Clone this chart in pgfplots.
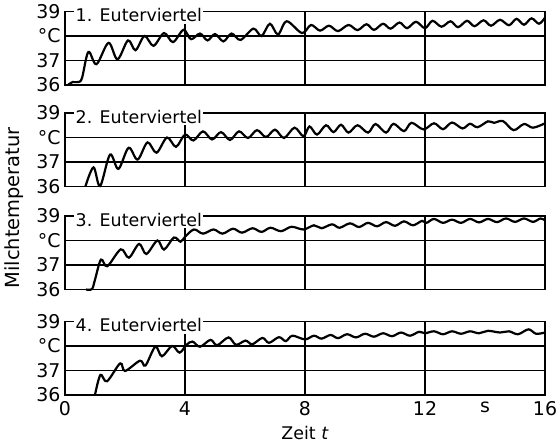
\documentclass[border=0pt]{standalone}
\usepackage{pgfplots}
\pgfplotsset{compat=1.18}
\usepackage{fontspec}
\setmainfont{DejaVu Sans}
\newcommand{\lblfont}{\fontsize{17.5}{20}\selectfont}
\newcommand{\tckfont}{\fontsize{19}{22}\selectfont}
\pgfplotsset{
  panel/.style={
    width=480bp, height=73.5bp, scale only axis,
    xmin=0, xmax=16, ymin=36, ymax=39,
    xtick={0,4,8,12,16}, xticklabels={},
    ytick={36,37,38,39}, yticklabels={36,37,°C,39},
    xmajorgrids, ymajorgrids,
    major tick length=0pt,
    grid style={black, line width=1.1bp},
    axis line style={black, line width=1.2bp},
    tick label style={font=\tckfont},
    /pgf/number format/assume math mode=true,
    yticklabel style={xshift=-1bp},
    anchor=south west, clip=false,
  },
  curve/.style={black, line width=2.2bp, smooth, tension=0.55, mark=none},
}
\tikzset{ttl/.style={anchor=north west, fill=white, inner sep=1.5bp, yshift=4.5bp, font=\lblfont}}
\begin{document}
\begin{tikzpicture}
\path[use as bounding box] (0bp,0bp) rectangle (557bp,446bp);

% Panel 1
\begin{axis}[panel, at={(65bp,361bp)}]
\addplot[curve] coordinates {
(0.1,36.0)(0.25,36.12)(0.45,36.12)(0.57,36.3)(0.78,37.35)(1.05,36.85)(1.45,37.72)(1.75,37.05)
(2.1,37.82)(2.35,37.42)(2.65,38.0)(2.95,37.6)(3.3,38.12)(3.6,37.75)(3.95,38.25)(4.2,37.87)
(4.5,38.1)(4.75,37.82)(5.0,38.08)(5.28,37.78)(5.55,38.1)(5.85,37.84)(6.28,38.3)(6.55,38.0)
(6.83,38.5)(7.1,38.06)(7.39,38.6)(7.9,38.12)(8.2,38.45)(8.5,38.22)(8.8,38.42)(9.1,38.2)
(9.45,38.45)(9.75,38.24)(10.05,38.48)(10.3,38.25)(10.6,38.5)(10.85,38.3)(11.15,38.55)(11.4,38.32)
(11.7,38.58)(12.0,38.32)(12.25,38.62)(12.55,38.38)(12.85,38.6)(13.1,38.36)(13.4,38.62)(13.65,38.4)
(13.95,38.64)(14.2,38.42)(14.5,38.66)(14.8,38.44)(15.05,38.7)(15.3,38.46)(15.55,38.72)(15.8,38.5)(16.0,38.75)
};
\node[ttl] at (axis cs:0.3,39) {1. Euterviertel};
\end{axis}

% Panel 2
\begin{axis}[panel, at={(65bp,259.5bp)}]
\addplot[curve] coordinates {
(0.68,36.0)(0.95,36.78)(1.17,36.02)(1.5,37.3)(1.78,36.72)(2.12,37.58)(2.42,37.1)(2.75,37.8)
(3.05,37.38)(3.4,38.0)(3.7,37.62)(4.0,38.12)(4.28,37.88)(4.6,38.25)(4.9,37.92)(5.2,38.22)
(5.5,37.9)(5.8,38.25)(6.1,37.98)(6.4,38.3)(6.7,38.02)(7.0,38.32)(7.3,37.98)(7.65,38.4)
(7.95,38.05)(8.15,38.45)(8.4,38.12)(8.7,38.5)(8.95,38.22)(9.2,38.52)(9.45,38.2)(9.75,38.5)
(10.1,38.2)(10.35,38.55)(10.7,38.2)(10.95,38.56)(11.3,38.26)(11.55,38.6)(11.95,38.33)(12.3,38.58)
(12.6,38.34)(12.9,38.61)(13.25,38.37)(13.5,38.56)(13.75,38.42)(14.1,38.66)(14.3,38.6)(14.6,38.67)
(14.95,38.3)(15.3,38.55)(15.6,38.4)(16.0,38.58)
};
\node[ttl] at (axis cs:0.3,39) {2. Euterviertel};
\end{axis}

% Panel 3
\begin{axis}[panel, at={(65bp,156.5bp)}]
\addplot[curve] coordinates {
(0.7,36.0)(0.9,36.02)(1.0,36.4)(1.2,37.22)(1.41,36.95)(1.86,37.64)(2.13,37.3)(2.47,37.86)
(2.71,37.45)(3.08,38.0)(3.3,37.63)(3.63,38.12)(3.85,37.95)(4.0,38.15)(4.3,38.45)(4.6,38.28)
(4.95,38.45)(5.25,38.28)(5.6,38.48)(5.9,38.32)(6.25,38.5)(6.55,38.35)(6.85,38.52)(7.2,38.38)
(7.55,38.56)(7.95,38.45)(8.3,38.62)(8.55,38.5)(8.9,38.66)(9.15,38.52)(9.5,38.7)(9.8,38.55)
(10.1,38.72)(10.4,38.58)(10.7,38.75)(11.0,38.6)(11.3,38.78)(11.6,38.62)(11.9,38.8)(12.05,38.72)
(12.3,38.88)(12.6,38.72)(12.9,38.85)(13.2,38.72)(13.5,38.88)(13.8,38.74)(14.1,38.88)(14.4,38.75)
(14.7,38.9)(15.0,38.76)(15.3,38.9)(15.6,38.76)(15.85,38.9)(16.0,38.82)
};
\node[ttl] at (axis cs:0.3,39) {3. Euterviertel};
\end{axis}

% Panel 4
\begin{axis}[panel, at={(65bp,51bp)},
  xticklabels={0,4,8,12,16},
  extra x ticks={14}, extra x tick labels={s}, extra x tick style={grid=none},
  xticklabel style={yshift=-3bp},
  xlabel={Zeit \textit{t}},
  xlabel style={at={(axis description cs:0.5,0)}, anchor=center, yshift=-38bp, font=\lblfont},
]
\addplot[curve] coordinates {
(1.0,36.0)(1.18,36.82)(1.4,36.56)(1.84,37.29)(2.0,36.98)(2.5,37.4)(2.68,37.2)(3.01,37.97)
(3.23,37.58)(3.57,38.0)(3.82,37.73)(4.05,38.05)(4.25,38.18)(4.5,37.97)(4.85,38.25)(5.07,38.03)
(5.45,38.35)(5.7,38.05)(6.02,38.22)(6.24,38.07)(6.58,38.33)(6.8,38.13)(7.13,38.36)(7.36,38.2)
(7.58,38.42)(8.0,38.27)(8.3,38.42)(8.55,38.3)(8.85,38.45)(9.1,38.32)(9.4,38.48)(9.7,38.35)
(10.0,38.5)(10.3,38.38)(10.6,38.52)(10.9,38.4)(11.2,38.55)(11.5,38.42)(11.8,38.58)(12.0,38.52)
(12.3,38.6)(12.6,38.48)(12.9,38.6)(13.2,38.5)(13.5,38.6)(13.8,38.52)(14.1,38.62)(14.5,38.55)
(14.8,38.6)(15.1,38.48)(15.45,38.68)(15.7,38.5)(16.0,38.55)
};
\node[ttl] at (axis cs:0.3,39) {4. Euterviertel};
\end{axis}

\node[rotate=90, font=\fontsize{19.5}{22}\selectfont] at (14bp,238bp) {Milchtemperatur};
\end{tikzpicture}
\end{document}
